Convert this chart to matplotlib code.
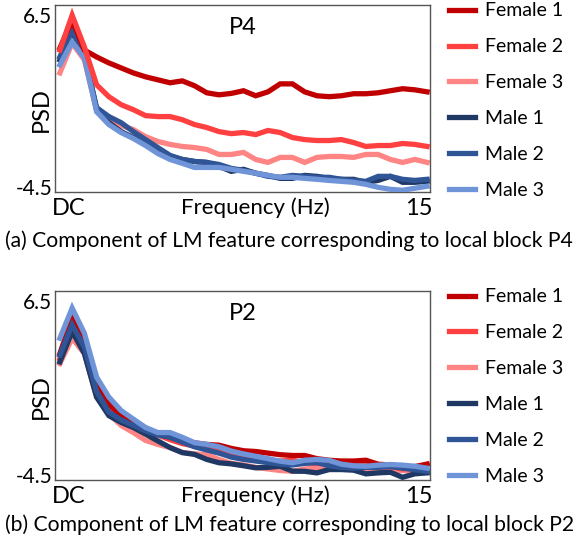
import matplotlib.pyplot as plt
import numpy as np

plt.rcParams['font.family'] = ['Lato', 'DejaVu Sans']

# frequency bins, DC .. 15 Hz in 0.5 Hz steps
freq = np.arange(0, 15.5, 0.5)

names = ['Female 1', 'Female 2', 'Female 3', 'Male 1', 'Male 2', 'Male 3']
colors = ['#C00000', '#FF4040', '#FF8585', '#203864', '#2F5597', '#7094D8']

# block P4
p4_f1 = [4.40, 6.18, 4.27, 3.83, 3.45, 3.13, 2.81, 2.56, 2.37, 2.18, 2.30, 1.99, 1.54, 1.41, 1.50,
         1.67, 1.35, 1.60, 2.11, 2.11, 1.60, 1.35, 1.29, 1.35, 1.48, 1.48, 1.54, 1.67, 1.80, 1.73, 1.60]
p4_f2 = [4.27, 6.50, 4.47, 2.05, 1.29, 0.78, 0.46, 0.08, 0.02, 0.02, -0.18, -0.49, -0.68, -0.94, -1.07,
         -1.00, -1.13, -0.87, -1.00, -1.32, -1.45, -1.51, -1.51, -1.45, -1.64, -1.89, -1.83, -1.83, -1.70, -1.76, -1.89]
p4_f3 = [2.81, 4.72, 3.64, 0.46, -0.18, -0.56, -0.81, -1.26, -1.57, -1.76, -1.89, -1.96, -2.08, -2.40, -2.40,
         -2.27, -2.72, -2.91, -2.59, -2.59, -2.91, -2.59, -2.53, -2.53, -2.59, -2.40, -2.40, -2.72, -2.91, -2.72, -2.91]
p4_m1 = [3.64, 5.42, 4.08, 0.46, -0.37, -0.94, -1.32, -1.64, -2.08, -2.53, -2.72, -2.85, -2.91, -3.16, -3.48,
         -3.35, -3.60, -3.74, -3.93, -3.93, -3.74, -3.80, -3.93, -3.99, -3.99, -4.18, -4.06, -3.80, -4.18, -4.18, -4.12]
p4_m2 = [3.83, 5.55, 3.96, 0.59, 0.02, -0.37, -0.94, -1.45, -1.96, -2.46, -2.72, -2.85, -2.91, -3.04, -3.29,
         -3.42, -3.60, -3.80, -3.86, -3.74, -3.80, -3.86, -3.86, -3.99, -4.06, -4.12, -3.80, -3.80, -3.99, -4.06, -3.99]
p4_m3 = [3.32, 4.78, 3.77, 0.33, -0.49, -1.00, -1.38, -1.83, -2.34, -2.72, -2.97, -3.23, -3.23, -3.23, -3.35,
         -3.48, -3.60, -3.74, -3.86, -3.86, -3.93, -3.99, -4.06, -4.12, -4.18, -4.31, -4.50, -4.63, -4.69, -4.56, -4.43]

# block P2
p2_f1 = [3.20, 5.44, 4.00, 1.20, 0.00, -0.70, -1.20, -1.55, -1.85, -2.10, -2.30, -2.45, -2.55, -2.60, -2.80,
         -2.95, -3.00, -3.10, -3.20, -3.25, -3.25, -3.45, -3.55, -3.60, -3.60, -3.55, -3.80, -3.85, -4.00, -3.95, -3.80]
p2_f2 = [2.88, 5.33, 3.90, 0.90, -0.15, -0.80, -1.30, -1.65, -1.95, -2.25, -2.50, -2.65, -2.75, -3.00, -3.15,
         -3.30, -3.40, -3.55, -3.60, -3.55, -3.70, -3.75, -3.70, -3.65, -3.75, -3.85, -4.00, -3.95, -4.10, -4.05, -3.80]
p2_f3 = [2.56, 4.16, 3.20, 0.44, -0.60, -1.35, -1.80, -2.30, -2.55, -2.75, -3.05, -3.15, -3.20, -3.50, -3.75,
         -3.85, -4.00, -4.10, -4.20, -4.25, -4.10, -4.05, -3.95, -3.90, -4.00, -4.10, -4.25, -4.20, -4.20, -4.25, -4.25]
p2_m1 = [2.67, 4.59, 3.20, 0.44, -0.73, -1.16, -1.48, -1.90, -2.33, -2.75, -3.07, -3.18, -3.50, -3.71, -3.78,
         -3.90, -4.03, -4.00, -3.93, -4.24, -4.25, -4.35, -4.14, -4.14, -4.18, -4.41, -4.35, -4.31, -4.63, -4.41, -4.35]
p2_m2 = [3.10, 5.01, 3.60, 0.80, -0.50, -1.00, -1.35, -1.70, -1.95, -2.10, -2.40, -2.70, -2.90, -3.10, -3.35,
         -3.50, -3.60, -3.70, -3.80, -3.85, -3.75, -3.70, -3.90, -4.00, -4.05, -4.00, -4.00, -3.95, -4.05, -4.15, -4.24]
p2_m3 = [4.16, 6.07, 4.48, 1.71, 0.44, -0.41, -0.95, -1.48, -1.80, -1.80, -2.10, -2.44, -2.55, -2.70, -2.97,
         -3.15, -3.30, -3.45, -3.61, -3.71, -3.55, -3.50, -3.56, -3.80, -3.90, -3.93, -3.86, -3.82, -3.86, -3.93, -4.05]

p4 = [p4_f1, p4_f2, p4_f3, p4_m1, p4_m2, p4_m3]
p2 = [p2_f1, p2_f2, p2_f3, p2_m1, p2_m2, p2_m3]
p4_order = [5, 6, 1, 2, 3, 4]
p2_order = [3, 2, 1, 4, 5, 6]

W, H = 577, 539
fig = plt.figure(figsize=(W / 100, H / 100), dpi=100)

def make_panel(top_px, bot_px, data, zord, title, caption, cap_y):
    ax = fig.add_axes([55 / W, 1 - bot_px / H, 375 / W, (bot_px - top_px) / H])
    for vals, c, n, z in zip(data, colors, names, zord):
        ax.plot(freq, vals, color=c, lw=3.8, label=n, zorder=z, solid_joinstyle='miter')
    ax.set_xlim(-0.2, 15.12)
    ax.set_ylim(-4.8, 7.15)
    ax.set_yticks([-4.5, 6.5])
    ax.set_yticklabels(['-4.5', '6.5'], fontsize=15)
    ax.tick_params(axis='y', length=0, pad=2)
    ax.set_xticks([])
    for s in ax.spines.values():
        s.set_color('#555555')
        s.set_linewidth(1.0)
    ax.text(0.5, 0.88, title, transform=ax.transAxes, ha='center', va='center', fontsize=17)
    ax.text(-0.008, -0.03, 'DC', transform=ax.transAxes, ha='left', va='top', fontsize=17)
    ax.text(1.008, -0.03, '15', transform=ax.transAxes, ha='right', va='top', fontsize=17)
    ax.text(0.535, -0.03, 'Frequency (Hz)', transform=ax.transAxes, ha='center', va='top', fontsize=16)
    ax.text(-0.035, 0.44, 'PSD', transform=ax.transAxes, ha='center', va='center',
            rotation=90, fontsize=17)
    leg = ax.legend(loc='upper left', bbox_to_anchor=(1.03, 1.055), frameon=False, fontsize=14,
                    handlelength=1.35, handletextpad=0.5, labelspacing=0.97, borderaxespad=0)
    for line in leg.get_lines():
        line.set_linewidth(3.8)
    fig.text(5 / W, 1 - cap_y / H, caption, ha='left', va='center', fontsize=15.2)
    return ax

make_panel(5, 192, p4, p4_order, 'P4',
           '(a) Component of LM feature corresponding to local block P4', 241)
make_panel(291, 480, p2, p2_order, 'P2',
           '(b) Component of LM feature corresponding to local block P2', 525)

fig.savefig('out.png', dpi=100)
